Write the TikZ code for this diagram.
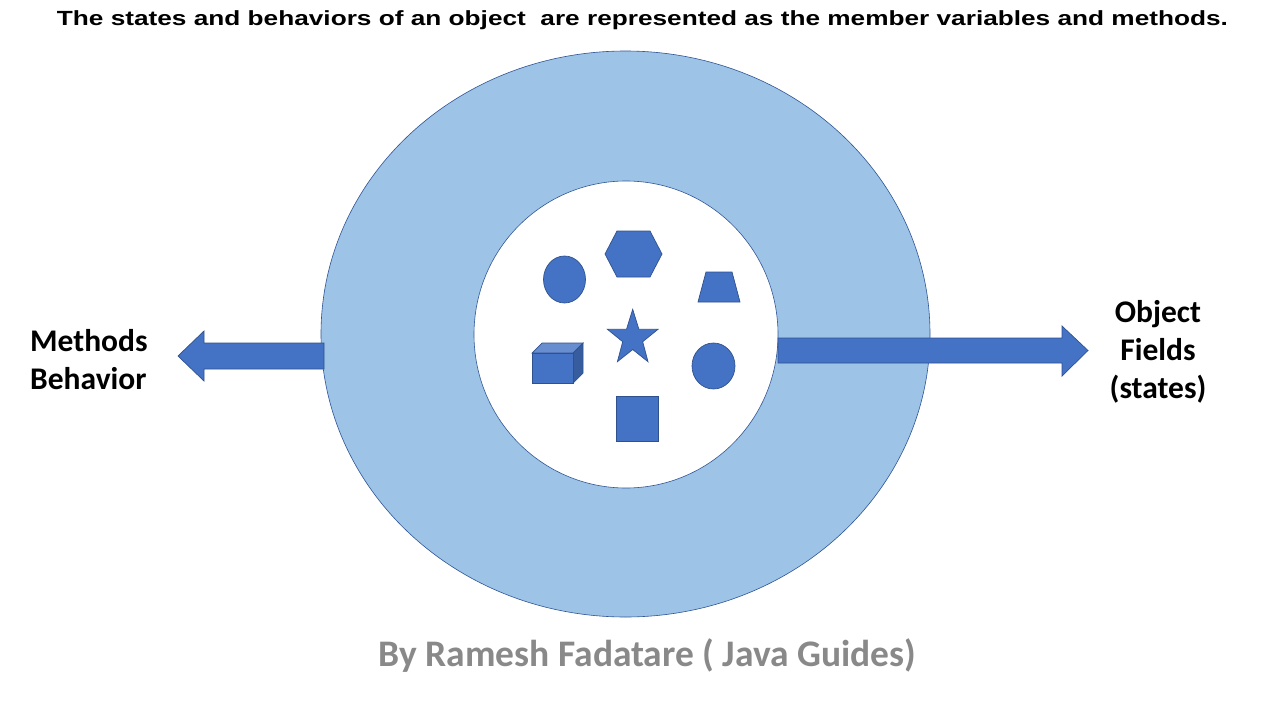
\documentclass[tikz,border=0pt]{standalone}
\usepackage{fontspec}
\setmainfont{Liberation Sans}
\newfontfamily\calib{Carlito}
\usetikzlibrary{shapes.geometric}
\definecolor{ringfill}{HTML}{9DC3E6}
\definecolor{ringline}{HTML}{2F5597}
\definecolor{shapefill}{HTML}{4472C4}
\definecolor{shapeline}{HTML}{2F528F}
\definecolor{cubetop}{HTML}{698ED0}
\definecolor{cubeside}{HTML}{385D9F}
\definecolor{credit}{HTML}{898989}
\tikzset{
  ring/.style={fill=ringfill,draw=ringline,line width=0.6pt},
  hole/.style={fill=white,draw=ringline,line width=0.6pt},
  shp/.style={fill=shapefill,draw=shapeline,line width=0.7pt,line join=miter},
  lbl/.style={font=\calib\bfseries\fontsize{31.5}{38}\selectfont,text=black,inner sep=0pt},
}
\begin{document}
\begin{tikzpicture}[x=1pt,y=-1pt]
\useasboundingbox (0,0) rectangle (1280,720);
\fill[white] (0,0) rectangle (1280,720);
% title
\node[inner sep=0pt,anchor=base] (title) at (642.5,25.5)
  {\resizebox{1171pt}{\height}{\bfseries\fontsize{20.5}{24}\selectfont The states and behaviors of an object\ \ are represented as the member variables and methods.}};
% rings
\draw[ring] (625.5,334) ellipse [x radius=304.5,y radius=283];
\draw[hole] (626,334.5) ellipse [x radius=152,y radius=153.5];
% arrows
\draw[shp] (324,343) -- (204,343) -- (204,331) -- (178,356) -- (204,381) -- (204,369) -- (324,369) -- cycle;
\draw[shp] (778,338) -- (1062,338) -- (1062,326) -- (1088,350.5) -- (1062,376) -- (1062,363) -- (778,363) -- cycle;
% shapes
\draw[shp] (564.5,279.5) ellipse [x radius=21,y radius=23.5];
\draw[shp] (605,254) -- (617,231) -- (650,231) -- (662,254) -- (650,277) -- (617,277) -- cycle;
\draw[shp] (706,272) -- (732,272) -- (740,302) -- (698,302) -- cycle;
\draw[shp] (632.7,309.3) -- (638.9,329.3) -- (658,329.3) -- (642.7,341.7) -- (648,361.7)
  -- (632.7,349.5) -- (617.4,361.7) -- (622.7,341.7) -- (607.4,329.3) -- (626.5,329.3) -- cycle;
\draw[shp,fill=cubetop] (532,353) -- (542,343) -- (583,343) -- (573,353) -- cycle;
\draw[shp,fill=cubeside] (573,353) -- (583,343) -- (583,373) -- (573,383) -- cycle;
\draw[shp] (532,353) rectangle (573,383);
\draw[shp] (713.5,366) ellipse [x radius=21.5,y radius=23];
\draw[shp] (616,396) rectangle (658,441);
% labels
\node[lbl,anchor=base west,align=left] (methods) at (30,389) {Methods\\Behavior};
\node[lbl,anchor=base,align=center] (fields) at (1158,398) {Object\\Fields\\(states)};
\node[inner sep=0pt,anchor=base,text=credit,font=\calib\bfseries\fontsize{37.5}{42}\selectfont] (credit) at (647.5,666) {By Ramesh Fadatare ( Java Guides)};
\end{tikzpicture}
\end{document}
